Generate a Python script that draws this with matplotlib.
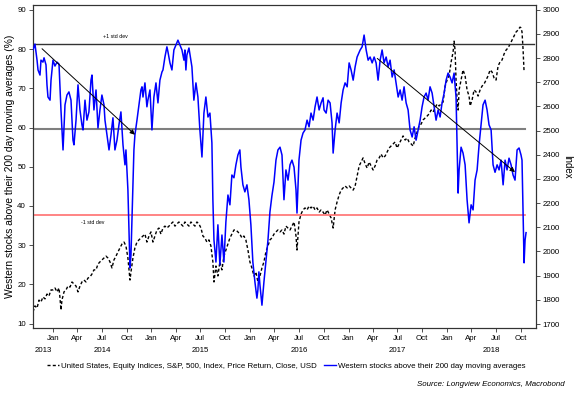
import matplotlib
matplotlib.use("Agg")
import matplotlib.pyplot as plt
from matplotlib.lines import Line2D
import matplotlib.dates as mdates
import matplotlib.transforms as mtransforms
from datetime import datetime

plt.rcParams['font.family'] = ['Liberation Sans', 'DejaVu Sans']

# ---------------- data (decimal-year dates, values) ----------------
blue_t = [2013.797, 2013.817, 2013.838, 2013.848, 2013.868, 2013.878, 2013.898, 2013.909, 2013.929, 2013.939,
          2013.949, 2013.970, 2013.980, 2014.000, 2014.020, 2014.041, 2014.061, 2014.081, 2014.102, 2014.122,
          2014.142, 2014.162, 2014.183, 2014.203, 2014.213, 2014.234, 2014.254, 2014.274, 2014.294, 2014.305,
          2014.325, 2014.345, 2014.365, 2014.386, 2014.396, 2014.416, 2014.437, 2014.457, 2014.477, 2014.497,
          2014.518, 2014.528, 2014.548, 2014.569, 2014.589, 2014.609, 2014.629, 2014.650, 2014.670, 2014.690,
          2014.711, 2014.731, 2014.741, 2014.761, 2014.782, 2014.792, 2014.802, 2014.822, 2014.832, 2014.853,
          2014.873, 2014.893, 2014.904, 2014.914, 2014.934, 2014.954, 2014.964, 2014.985, 2015.005, 2015.025,
          2015.046, 2015.066, 2015.086, 2015.107, 2015.117, 2015.137, 2015.157, 2015.168, 2015.188, 2015.208,
          2015.228, 2015.249, 2015.269, 2015.289, 2015.310, 2015.330, 2015.340, 2015.350, 2015.360, 2015.381,
          2015.401, 2015.411, 2015.431, 2015.452, 2015.472, 2015.492, 2015.513, 2015.533, 2015.553, 2015.574,
          2015.594, 2015.614, 2015.624, 2015.635, 2015.655, 2015.675, 2015.695, 2015.716, 2015.736, 2015.756,
          2015.777, 2015.797, 2015.817, 2015.838, 2015.858, 2015.878, 2015.898, 2015.909, 2015.929, 2015.949,
          2015.970, 2015.990, 2016.010, 2016.030, 2016.051, 2016.071, 2016.081, 2016.091, 2016.102, 2016.122,
          2016.142, 2016.162, 2016.183, 2016.203, 2016.223, 2016.244, 2016.264, 2016.284, 2016.305, 2016.325,
          2016.345, 2016.365, 2016.386, 2016.406, 2016.426, 2016.447, 2016.467, 2016.477, 2016.497, 2016.518,
          2016.538, 2016.558, 2016.579, 2016.599, 2016.619, 2016.640, 2016.660, 2016.680, 2016.701, 2016.721,
          2016.741, 2016.751, 2016.772, 2016.792, 2016.812, 2016.832, 2016.843, 2016.863, 2016.883, 2016.904,
          2016.924, 2016.944, 2016.964, 2016.985, 2017.005, 2017.025, 2017.046, 2017.066, 2017.086, 2017.117,
          2017.137, 2017.157, 2017.178, 2017.198, 2017.218, 2017.239, 2017.259, 2017.279, 2017.299, 2017.320,
          2017.340, 2017.360, 2017.381, 2017.401, 2017.421, 2017.442, 2017.462, 2017.482, 2017.503, 2017.523,
          2017.543, 2017.563, 2017.584, 2017.604, 2017.624, 2017.645, 2017.665, 2017.685, 2017.706, 2017.726,
          2017.746, 2017.766, 2017.787, 2017.807, 2017.827, 2017.848, 2017.868, 2017.888, 2017.909, 2017.929,
          2017.949, 2017.970, 2017.990, 2018.010, 2018.030, 2018.051, 2018.071, 2018.091, 2018.102, 2018.112,
          2018.122, 2018.142, 2018.162, 2018.183, 2018.203, 2018.223, 2018.244, 2018.264, 2018.284, 2018.305,
          2018.325, 2018.345, 2018.365, 2018.386, 2018.406, 2018.426, 2018.447, 2018.467, 2018.487, 2018.508,
          2018.528, 2018.548, 2018.569, 2018.589, 2018.609, 2018.629, 2018.650, 2018.670, 2018.690, 2018.711,
          2018.731, 2018.751, 2018.761, 2018.772, 2018.782, 2018.792, 2018.802]
blue_v = [79.8, 81.3, 77.2, 74.7, 73.4, 77.2, 76.7, 77.8, 76.0, 70.9,
          67.8, 67.0, 72.1, 77.2, 75.7, 76.7, 76.2, 64.5, 54.3, 65.8,
          68.3, 69.1, 67.0, 56.8, 55.6, 61.9, 70.9, 64.5, 60.7, 59.4,
          67.0, 61.9, 64.0, 72.1, 73.4, 64.5, 69.6, 59.9, 64.5, 68.3,
          65.8, 61.9, 58.1, 54.3, 58.1, 62.5, 54.3, 56.8, 60.7, 64.0,
          55.6, 50.5, 54.3, 44.1, 24.2, 27.5, 36.4, 54.3, 58.1, 61.9,
          65.8, 69.6, 70.4, 67.8, 71.4, 65.3, 67.0, 69.6, 59.4, 67.8,
          71.4, 66.3, 72.1, 74.2, 74.7, 78.0, 80.6, 79.3, 76.5, 74.7,
          79.8, 81.1, 82.3, 81.1, 79.8, 77.2, 79.8, 74.7, 78.5, 80.3,
          77.2, 75.5, 67.0, 71.4, 67.8, 59.4, 52.5, 63.7, 67.8, 62.7,
          63.7, 56.1, 41.6, 31.3, 25.7, 35.2, 25.0, 32.6, 25.7, 35.9,
          42.8, 40.3, 47.9, 47.2, 50.5, 53.0, 54.3, 49.9, 45.4, 43.6,
          45.4, 41.6, 35.2, 25.7, 20.6, 16.5, 18.6, 23.2, 19.8, 14.7,
          20.6, 25.7, 31.3, 38.5, 42.6, 46.1, 51.7, 54.3, 55.0, 53.0,
          41.6, 49.2, 46.6, 50.5, 51.7, 49.9, 44.1, 38.2, 51.7, 56.8,
          58.6, 59.4, 61.9, 60.2, 63.7, 61.9, 65.3, 67.8, 64.5, 66.3,
          67.6, 64.5, 63.7, 67.0, 66.3, 61.2, 53.5, 59.4, 63.7, 61.2,
          66.3, 69.6, 71.4, 70.4, 76.5, 74.7, 72.1, 75.5, 78.0, 79.8,
          80.6, 83.6, 79.8, 77.2, 78.0, 76.5, 78.0, 76.5, 72.1, 77.2,
          79.8, 76.5, 78.0, 75.5, 77.2, 72.9, 74.7, 71.4, 67.8, 69.6,
          67.0, 70.4, 66.3, 64.5, 59.4, 57.6, 60.2, 56.8, 59.4, 61.9,
          65.3, 67.8, 68.8, 67.0, 70.4, 68.8, 65.3, 61.9, 64.5, 62.7,
          66.3, 68.8, 72.1, 73.9, 72.9, 71.4, 73.9, 67.8, 54.3, 43.3,
          49.2, 55.0, 53.5, 50.5, 41.6, 35.7, 40.3, 39.0, 46.6, 49.2,
          55.6, 60.7, 65.8, 67.0, 64.5, 60.7, 59.4, 50.5, 48.6, 50.5,
          49.2, 51.7, 45.4, 51.7, 49.2, 52.2, 50.5, 47.9, 46.6, 54.3,
          54.8, 53.0, 51.7, 37.7, 25.5, 31.3, 33.2]

spx_t = [2013.797, 2013.817, 2013.838, 2013.858, 2013.878, 2013.898, 2013.919, 2013.939, 2013.959, 2013.980,
         2014.000, 2014.020, 2014.041, 2014.061, 2014.071, 2014.081, 2014.091, 2014.112, 2014.132, 2014.152,
         2014.173, 2014.193, 2014.213, 2014.234, 2014.254, 2014.274, 2014.294, 2014.315, 2014.335, 2014.355,
         2014.376, 2014.396, 2014.416, 2014.437, 2014.457, 2014.477, 2014.497, 2014.518, 2014.538, 2014.558,
         2014.579, 2014.599, 2014.619, 2014.640, 2014.660, 2014.680, 2014.701, 2014.721, 2014.741, 2014.761,
         2014.782, 2014.792, 2014.812, 2014.832, 2014.853, 2014.873, 2014.893, 2014.914, 2014.934, 2014.954,
         2014.975, 2014.995, 2015.015, 2015.036, 2015.056, 2015.076, 2015.096, 2015.117, 2015.137, 2015.157,
         2015.178, 2015.198, 2015.218, 2015.239, 2015.259, 2015.279, 2015.299, 2015.320, 2015.340, 2015.360,
         2015.381, 2015.401, 2015.421, 2015.442, 2015.462, 2015.482, 2015.503, 2015.523, 2015.543, 2015.563,
         2015.584, 2015.604, 2015.624, 2015.635, 2015.655, 2015.675, 2015.695, 2015.716, 2015.736, 2015.756,
         2015.777, 2015.797, 2015.817, 2015.838, 2015.858, 2015.878, 2015.898, 2015.919, 2015.939, 2015.959,
         2015.980, 2016.000, 2016.020, 2016.041, 2016.061, 2016.081, 2016.102, 2016.122, 2016.142, 2016.162,
         2016.183, 2016.203, 2016.223, 2016.244, 2016.264, 2016.284, 2016.305, 2016.325, 2016.345, 2016.365,
         2016.386, 2016.406, 2016.426, 2016.447, 2016.467, 2016.477, 2016.497, 2016.518, 2016.538, 2016.558,
         2016.579, 2016.599, 2016.619, 2016.640, 2016.660, 2016.680, 2016.701, 2016.721, 2016.741, 2016.761,
         2016.782, 2016.802, 2016.822, 2016.843, 2016.863, 2016.883, 2016.904, 2016.924, 2016.944, 2016.964,
         2016.985, 2017.005, 2017.025, 2017.046, 2017.066, 2017.086, 2017.107, 2017.127, 2017.147, 2017.168,
         2017.188, 2017.208, 2017.228, 2017.249, 2017.269, 2017.289, 2017.310, 2017.330, 2017.350, 2017.371,
         2017.391, 2017.411, 2017.431, 2017.452, 2017.472, 2017.492, 2017.513, 2017.533, 2017.553, 2017.574,
         2017.594, 2017.614, 2017.635, 2017.655, 2017.675, 2017.695, 2017.716, 2017.736, 2017.756, 2017.777,
         2017.797, 2017.817, 2017.838, 2017.858, 2017.878, 2017.898, 2017.919, 2017.939, 2017.959, 2017.980,
         2018.000, 2018.020, 2018.041, 2018.061, 2018.071, 2018.081, 2018.091, 2018.102, 2018.112, 2018.122,
         2018.142, 2018.162, 2018.183, 2018.203, 2018.223, 2018.234, 2018.254, 2018.274, 2018.294, 2018.315,
         2018.335, 2018.355, 2018.376, 2018.396, 2018.416, 2018.437, 2018.457, 2018.477, 2018.497, 2018.518,
         2018.538, 2018.558, 2018.579, 2018.599, 2018.619, 2018.640, 2018.660, 2018.680, 2018.701, 2018.721,
         2018.741, 2018.751, 2018.761, 2018.772, 2018.782]
spx_v = [1750, 1775, 1766, 1799, 1791, 1812, 1804, 1824, 1816, 1841,
         1841, 1849, 1833, 1849, 1808, 1758, 1799, 1833, 1841, 1857,
         1853, 1874, 1866, 1857, 1833, 1857, 1874, 1882, 1874, 1890,
         1895, 1907, 1924, 1924, 1948, 1957, 1965, 1973, 1981, 1973,
         1957, 1932, 1965, 1981, 1998, 2015, 2031, 2039, 2023, 1973,
         1882, 1915, 1973, 2015, 2039, 2048, 2056, 2064, 2072, 2039,
         2064, 2081, 2039, 2064, 2089, 2097, 2072, 2097, 2105, 2097,
         2105, 2114, 2122, 2105, 2114, 2122, 2114, 2105, 2122, 2114,
         2105, 2122, 2114, 2105, 2122, 2114, 2097, 2064, 2056, 2039,
         2048, 2023, 1957, 1874, 1940, 1899, 1957, 1924, 1981, 2006,
         2031, 2056, 2072, 2089, 2089, 2081, 2072, 2056, 2064, 2048,
         2006, 1957, 1932, 1899, 1915, 1874, 1899, 1932, 1957, 1998,
         2023, 2048, 2056, 2072, 2081, 2089, 2081, 2089, 2072, 2105,
         2097, 2089, 2105, 2122, 2064, 2006, 2122, 2155, 2172, 2180,
         2172, 2188, 2180, 2188, 2172, 2180, 2163, 2172, 2163, 2151,
         2172, 2155, 2139, 2097, 2172, 2205, 2234, 2254, 2263, 2271,
         2263, 2271, 2263, 2254, 2271, 2312, 2354, 2370, 2387, 2362,
         2345, 2370, 2354, 2337, 2354, 2378, 2387, 2403, 2387, 2395,
         2412, 2428, 2436, 2445, 2453, 2428, 2445, 2461, 2478, 2461,
         2469, 2453, 2445, 2436, 2469, 2494, 2519, 2527, 2544, 2552,
         2560, 2569, 2585, 2577, 2593, 2610, 2602, 2610, 2618, 2684,
         2709, 2726, 2784, 2825, 2870, 2833, 2709, 2627, 2585, 2668,
         2709, 2751, 2726, 2668, 2643, 2602, 2627, 2668, 2660, 2643,
         2668, 2684, 2693, 2709, 2726, 2751, 2742, 2718, 2709, 2767,
         2784, 2792, 2817, 2833, 2842, 2858, 2875, 2891, 2908, 2916,
         2928, 2924, 2908, 2833, 2742]

plus_sd = 81.3
mean_level = 59.6
minus_sd = 37.8

left_ticks = [10, 20, 30, 40, 50, 60, 70, 80, 90]
right_ticks = [1700, 1800, 1900, 2000, 2100, 2200, 2300, 2400, 2500, 2600, 2700, 2800, 2900, 3000]
years = [2013, 2014, 2015, 2016, 2017, 2018]

spx_label = "United States, Equity Indices, S&P, 500, Index, Price Return, Close, USD"
blue_label = "Western stocks above their 200 day moving averages"


def dec2dt(t):
    y = int(t)
    a = datetime(y, 1, 1)
    b = datetime(y + 1, 1, 1)
    return a + (b - a) * (t - y)


bt = [dec2dt(t) for t in blue_t]
st = [dec2dt(t) for t in spx_t]

fig = plt.figure(figsize=(5.79, 3.97), dpi=100)
ax = fig.add_axes([33 / 579, 1 - 328 / 397, (535.7 - 33) / 579, (328 - 5) / 397])
ax2 = ax.twinx()

x0 = dec2dt(2013.797)
x1 = dec2dt(2018.900)

# dashed S&P on right axis (drawn below)
ax2.plot(st, spx_v, color='black', lw=1.0, ls=(0, (2.2, 1.6)), zorder=2)
ax2.set_ylim(1683.6, 3019.4)
ax2.set_yticks(right_ticks)

# blue series on left axis
ax.set_zorder(ax2.get_zorder() + 1)
ax.patch.set_visible(False)
ax.plot(bt, blue_v, color='#0000ff', lw=1.1, zorder=3)
ax.set_ylim(8.88, 91.27)
ax.set_yticks(left_ticks)
ax.set_xlim(x0, x1)

# reference lines
frac_end = (525 - 33) / (535.7 - 33)
ax.axhline(plus_sd, xmin=0, xmax=(534 - 33) / (535.7 - 33), color='#333333', lw=1.0, zorder=1)
ax.axhline(mean_level, xmin=0, xmax=frac_end, color='#7f7f7f', lw=1.5, zorder=1)
ax.axhline(minus_sd, xmin=0, xmax=frac_end, color='#ff7070', lw=1.2, zorder=1)

ax.text(dec2dt(2014.629), 83.2, "+1 std dev", fontsize=3.8, ha='center', va='center')
ax.text(dec2dt(2014.406), 35.7, "-1 std dev", fontsize=3.8, ha='center', va='center')

# arrows
ax.annotate("", xy=(dec2dt(2014.853), 57.7), xytext=(dec2dt(2013.868), 80.6),
            arrowprops=dict(arrowstyle='-|>', color='black', lw=0.7, mutation_scale=7), zorder=4)
ax.annotate("", xy=(dec2dt(2018.711), 48.2), xytext=(dec2dt(2017.269), 78.1),
            arrowprops=dict(arrowstyle='-|>', color='black', lw=0.7, mutation_scale=7), zorder=4)

# x ticks: quarterly months
qt = []
for y in range(2014, 2019):
    for m in (1, 4, 7, 10):
        qt.append(datetime(y, m, 1))
ax.set_xticks(qt)
ax.xaxis.set_major_formatter(mdates.DateFormatter('%b'))
ax2.set_xlim(x0, x1)

for a in (ax, ax2):
    for s in a.spines.values():
        s.set_color('#333333')
        s.set_linewidth(0.8)
ax.tick_params(axis='x', labelsize=5.7, length=3, width=0.6, direction='out', pad=2, colors='#333333', labelcolor='black')
ax.tick_params(axis='y', labelsize=5.7, length=3, width=0.6, direction='out', pad=2, colors='#333333', labelcolor='black')
ax2.tick_params(axis='y', labelsize=5.7, length=3, width=0.6, direction='out', pad=2, colors='#333333', labelcolor='black')

# year labels centred on each year's visible span
trans = mtransforms.blended_transform_factory(ax.transData, ax.transAxes)
for y in years:
    a = max(datetime(y, 1, 1), x0)
    b = min(datetime(y + 1, 1, 1), x1)
    mid = a + (b - a) / 2
    ax.text(mid, -0.06, str(y), transform=trans, fontsize=5.7, ha='center', va='top')

ax.set_ylabel("Western stocks above their 200 day moving averages (%)", fontsize=7.4, labelpad=2)
ax2.set_ylabel("Index", fontsize=7.0, rotation=270, labelpad=9)

# legend
h1 = Line2D([], [], color='black', lw=1.0, ls=(0, (2.2, 1.6)))
h2 = Line2D([], [], color='#0000ff', lw=1.0)
fig.legend([h1, h2], [spx_label, blue_label], loc='center', bbox_to_anchor=(0.494, 0.078),
           ncol=2, frameon=False, fontsize=5.7, handlelength=1.6, handletextpad=0.2,
           columnspacing=0.9)

fig.text(565 / 579, 1 - 385 / 397, "Source: Longview Economics, Macrobond", fontsize=5.7,
         style='italic', ha='right', va='center')

fig.savefig("out.png", dpi=100)
